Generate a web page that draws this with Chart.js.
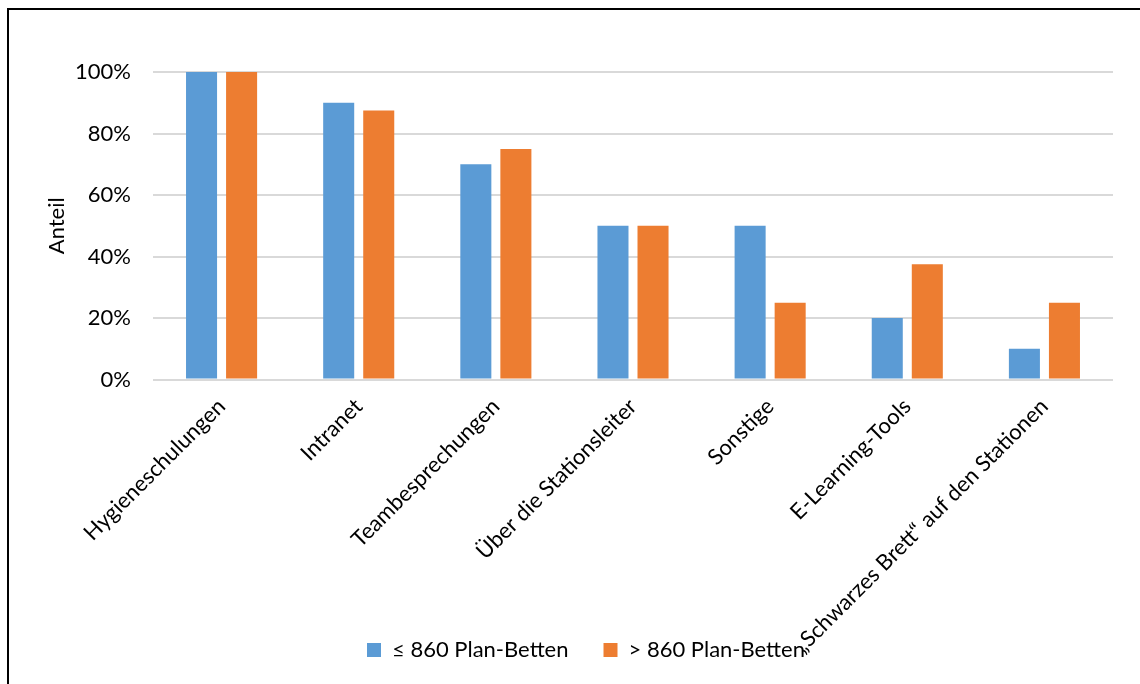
<!DOCTYPE html>
<html>
<head>
<meta charset="utf-8">
<script src="https://cdn.jsdelivr.net/npm/chart.js@4"></script>
<style>
  html, body { margin: 0; padding: 0; background: #fff; overflow: hidden; }
  #frame { position: absolute; left: 7px; top: 8px; width: 2000px; height: 2000px;
           border-left: 2px solid #000; border-top: 2px solid #000; box-sizing: border-box; }
  #wrap { position: absolute; left: 0; top: 0; width: 1140px; height: 684px; }
</style>
</head>
<body>
<div id="frame"></div>
<div id="wrap"><canvas id="c" width="1140" height="684"></canvas></div>
<script>
const categories = [
  'Hygieneschulungen',
  'Intranet',
  'Teambesprechungen',
  'Über die Stationsleiter',
  'Sonstige',
  'E-Learning-Tools',
  '„Schwarzes Brett“ auf den Stationen'
];
const seriesSmall = [100, 90, 70, 50, 50, 20, 10];   // ≤ 860 Plan-Betten
const seriesLarge = [100, 87.5, 75, 50, 25, 37.5, 25]; // > 860 Plan-Betten
const seriesNames = ['≤ 860 Plan-Betten', '> 860 Plan-Betten'];
const yTicks = [0, 20, 40, 60, 80, 100];

const FONT = 'Lato, "Open Sans", sans-serif';
const FS = 22;

// let the rotated category labels run down behind the legend, as in the original
const extendXLabels = {
  id: 'extendXLabels',
  afterLayout(chart) { chart.scales.x.bottom = chart.height; }
};

new Chart(document.getElementById('c'), {
  type: 'bar',
  data: {
    labels: categories,
    datasets: [
      { label: seriesNames[0], data: seriesSmall, backgroundColor: '#5B9BD5',
        categoryPercentage: 0.584, barPercentage: 0.775 },
      { label: seriesNames[1], data: seriesLarge, backgroundColor: '#ED7D31',
        categoryPercentage: 0.584, barPercentage: 0.775 }
    ]
  },
  plugins: [extendXLabels],
  options: {
    responsive: false,
    animation: false,
    devicePixelRatio: 1,
    layout: { padding: { top: 72, right: 27, bottom: 13, left: 59 } },
    plugins: {
      tooltip: { enabled: false },
      legend: {
        position: 'bottom',
        labels: {
          boxWidth: 14, boxHeight: 14, padding: 35,
          color: '#000',
          font: { family: FONT, size: FS }
        }
      }
    },
    scales: {
      x: {
        grid: { display: false },
        border: { display: false },
        ticks: {
          autoSkip: false, minRotation: 45, maxRotation: 45, padding: 6,
          color: '#000', font: { family: FONT, size: FS }
        },
        afterFit: (s) => { s.height = 224.5; }
      },
      y: {
        min: 0, max: 100,
        afterBuildTicks: (s) => { s.ticks = yTicks.map(v => ({ value: v })); },
        grid: { color: '#d9d9d9', lineWidth: 2, drawTicks: false },
        border: { display: false },
        ticks: {
          padding: 22, color: '#000', font: { family: FONT, size: FS },
          callback: (v) => v + '%'
        },
        title: {
          display: true, text: 'Anteil', color: '#000',
          font: { family: FONT, size: FS },
          padding: { top: -15, bottom: 0 }
        },
        afterFit: (s) => { s.width = 94; }
      }
    }
  }
});
</script>
</body>
</html>
